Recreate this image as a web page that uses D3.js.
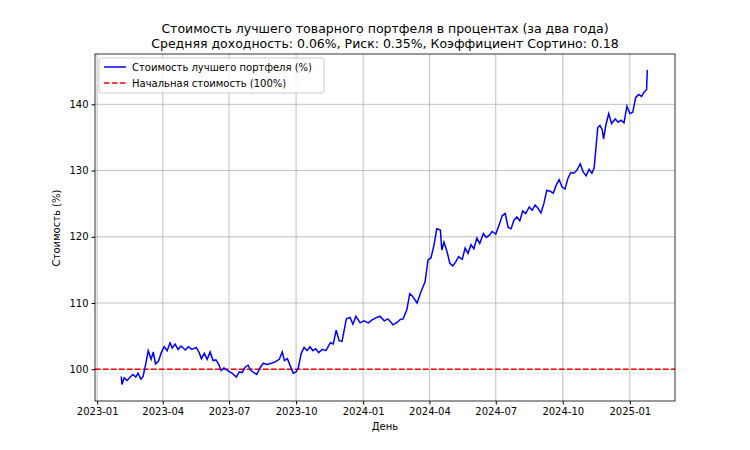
<!DOCTYPE html>
<html><head><meta charset="utf-8">
<script src="https://cdn.jsdelivr.net/npm/d3@7"></script>
<style>body{margin:0;background:#fff}text{font-family:"DejaVu Sans",sans-serif}</style>
</head><body><svg id="chart" width="750" height="450"></svg>
<script>
// days since 2023-01-01 and portfolio value (%)
const dayOffsets = [33,34,37,41,45,49,53,56,60,63,67,70,74,77,80,84,88,92,96,100,103,107,111,115,121,125,130,136,140,143,147,151,155,159,163,167,170,174,180,185,191,195,199,203,207,211,215,219,224,228,233,239,244,250,254,257,261,265,269,273,276,280,284,288,292,296,300,304,309,314,320,324,328,332,336,342,347,351,355,361,366,372,377,383,388,394,399,406,412,416,420,425,429,433,439,444,450,454,458,462,466,471,473,476,480,484,488,492,496,501,505,509,513,517,521,525,530,534,538,542,547,551,556,560,564,568,572,576,580,584,588,593,597,601,605,609,613,617,621,626,630,634,638,642,646,650,654,658,663,667,671,675,679,682,684,687,690,693,695,698,702,706,711,715,719,723,727,731,735,739,743,747,751,754,755];
const values = [98.9,97.7,98.7,98.3,98.8,99.2,98.8,99.4,98.5,98.9,101,102.8,101.5,102.6,100.8,101.2,102.5,103.4,102.8,104,103.2,103.8,103,103.5,102.9,103.4,103,103.3,102.5,101.6,102.4,101.5,102.6,101.3,101.4,100.7,99.8,100.2,99.7,99.4,98.8,99.6,99.5,100.3,100.6,99.8,99.5,99.2,100.3,100.9,100.7,100.9,101.1,101.5,102.6,101.3,101.6,100.5,99.4,99.6,100.2,102.4,103.3,102.8,103.4,102.8,103.1,102.5,103,102.8,104,103.8,105.9,104.3,104.2,107.6,107.8,106.8,108,107,107.3,107,107.4,107.8,108,107.3,107.6,106.7,107.1,107.5,107.6,109,111.4,111,110,111.6,113.2,116.5,116.8,118.6,121.2,121,118,119.2,117.8,116,115.6,116.2,117,116.6,118.3,117.5,118.8,118.2,119.8,119,120.5,119.9,120.2,120.8,120.4,121.6,123.2,123.5,121.4,121.2,122.5,123,122.4,123.9,123.5,124.5,124,124.8,124.3,123.6,125,127,126.9,126.6,127.8,128.6,127.5,127.2,128.8,129.7,129.6,130,131,129.8,129.2,130.2,129.6,130.4,132.8,136.5,136.8,136.2,134.8,136.8,138.6,137.1,137.8,137.3,137.6,137.2,139.7,138.6,138.8,141,141.5,141.2,141.9,142.2,145.2];
const baseline = 100;
const yTicks = [100,110,120,130,140];
const xTickDates = ["2023-01","2023-04","2023-07","2023-10","2024-01","2024-04","2024-07","2024-10","2025-01"];

const start = new Date(2023,0,1);
const data = dayOffsets.map((d,i) => ({date: d3.timeDay.offset(start,d), v: values[i]}));

const svg = d3.select("#chart");
const L = 95, R = 675, T = 54, B = 401;
const x = d3.scaleTime().domain([new Date(2022,11,29), new Date(2025,2,4)]).range([L,R]);
const y = d3.scaleLinear().domain([95.2,147.6]).range([B,T]);
const parse = d3.timeParse("%Y-%m");
const xt = xTickDates.map(parse);

// grid
svg.append("g").selectAll("line").data(xt).enter().append("line")
  .attr("x1",d=>x(d)).attr("x2",d=>x(d)).attr("y1",T).attr("y2",B)
  .attr("stroke","#b0b0b0").attr("stroke-width",0.8);
svg.append("g").selectAll("line").data(yTicks).enter().append("line")
  .attr("y1",d=>y(d)).attr("y2",d=>y(d)).attr("x1",L).attr("x2",R)
  .attr("stroke","#b0b0b0").attr("stroke-width",0.8);

// axes
const xa = svg.append("g").attr("transform",`translate(0,${B})`)
  .call(d3.axisBottom(x).tickValues(xt).tickFormat(d3.timeFormat("%Y-%m")).tickSize(3.5).tickPadding(3));
const ya = svg.append("g").attr("transform",`translate(${L},0)`)
  .call(d3.axisLeft(y).tickValues(yTicks).tickSize(3.5).tickPadding(3));
[xa,ya].forEach(a => {
  a.select(".domain").remove();
  a.selectAll("text").attr("font-size",10).attr("fill","#000").attr("font-family","DejaVu Sans");
  a.selectAll("line").attr("stroke","#000");
});

// baseline & series
svg.append("line").attr("x1",L).attr("x2",R).attr("y1",y(baseline)).attr("y2",y(baseline))
  .attr("stroke","red").attr("stroke-width",1.5).attr("stroke-dasharray","5.5,2.5");
svg.append("path").datum(data)
  .attr("d", d3.line().x(d=>x(d.date)).y(d=>y(d.v)))
  .attr("fill","none").attr("stroke","blue").attr("stroke-width",1.5);

// frame
svg.append("rect").attr("x",L).attr("y",T).attr("width",R-L).attr("height",B-T)
  .attr("fill","none").attr("stroke","#000").attr("stroke-width",0.8);

// titles
svg.append("text").attr("x",385).attr("y",33).attr("text-anchor","middle").attr("font-size",12.5)
  .text("Стоимость лучшего товарного портфеля в процентах (за два года)");
svg.append("text").attr("x",385).attr("y",48).attr("text-anchor","middle").attr("font-size",12.5)
  .text("Средняя доходность: 0.06%, Риск: 0.35%, Коэффициент Сортино: 0.18");
svg.append("text").attr("x",385).attr("y",430).attr("text-anchor","middle").attr("font-size",10).text("День");
svg.append("text").attr("transform","translate(60,228) rotate(-90)").attr("text-anchor","middle")
  .attr("font-size",10).text("Стоимость (%)");

// legend
const lg = svg.append("g");
lg.append("rect").attr("x",99).attr("y",58).attr("width",225).attr("height",35).attr("rx",2)
  .attr("fill","#fff").attr("fill-opacity",0.8).attr("stroke","#ccc");
lg.append("line").attr("x1",104).attr("x2",126).attr("y1",67).attr("y2",67).attr("stroke","blue").attr("stroke-width",1.5);
lg.append("line").attr("x1",104).attr("x2",126).attr("y1",83).attr("y2",83).attr("stroke","red")
  .attr("stroke-width",1.5).attr("stroke-dasharray","5.5,2.5");
lg.append("text").attr("x",132).attr("y",71).attr("font-size",10).text("Стоимость лучшего портфеля (%)");
lg.append("text").attr("x",132).attr("y",87).attr("font-size",10).text("Начальная стоимость (100%)");
</script></body></html>
